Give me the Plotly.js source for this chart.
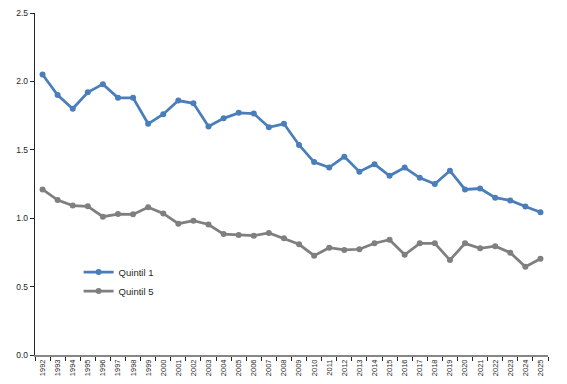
<!DOCTYPE html>
<html>
<head>
<meta charset="utf-8">
<script src="https://cdn.plot.ly/plotly-3.0.1.min.js"></script>
<style>html,body{margin:0;padding:0;background:#fff;}#chart{width:567px;height:384px;}</style>
</head>
<body>
<div id="chart"></div>
<script>
const years = ["1992","1993","1994","1995","1996","1997","1998","1999","2000","2001","2002","2003","2004","2005","2006","2007","2008","2009","2010","2011","2012","2013","2014","2015","2016","2017","2018","2019","2020","2021","2022","2023","2024","2025"];
const quintil1 = [2.05,1.90,1.80,1.92,1.98,1.88,1.88,1.69,1.76,1.86,1.84,1.67,1.73,1.77,1.765,1.665,1.69,1.535,1.41,1.37,1.45,1.34,1.395,1.31,1.37,1.295,1.25,1.347,1.21,1.217,1.15,1.13,1.085,1.043];
const quintil5 = [1.21,1.133,1.092,1.087,1.011,1.03,1.028,1.08,1.035,0.96,0.982,0.954,0.884,0.877,0.872,0.892,0.853,0.809,0.726,0.784,0.768,0.773,0.817,0.843,0.733,0.816,0.816,0.694,0.816,0.78,0.795,0.748,0.645,0.703];
const seriesNames = ["Quintil 1","Quintil 5"];

const traces = [
  {x: years, y: quintil1, name: seriesNames[0], type: "scatter", mode: "lines+markers",
   line: {color: "#4a7ebb", width: 2.75}, marker: {color: "#4a7ebb", size: 6}},
  {x: years, y: quintil5, name: seriesNames[1], type: "scatter", mode: "lines+markers",
   line: {color: "#7f7f7f", width: 2.75}, marker: {color: "#7f7f7f", size: 6}}
];

const layout = {
  width: 567, height: 384,
  margin: {l: 35, r: 19, t: 13, b: 29},
  paper_bgcolor: "#fff", plot_bgcolor: "#fff",
  font: {family: "Liberation Sans, Arial, sans-serif", color: "#262626"},
  showlegend: true,
  legend: {x: 0.085, y: 0.285, xanchor: "left", yanchor: "top", bgcolor: "rgba(0,0,0,0)",
           font: {size: 9.5, color: "#262626"}, itemwidth: 30, tracegroupgap: 0},
  xaxis: {type: "category", range: [-0.5, 33.5], tickson: "boundaries",
          showline: true, linecolor: "#868686", linewidth: 1.5,
          ticks: "outside", ticklen: 4, tickcolor: "#262626", tickwidth: 1,
          tickangle: -90, tickfont: {size: 7.5, color: "#262626"},
          showgrid: false, zeroline: false, fixedrange: true},
  yaxis: {range: [0, 2.5], dtick: 0.5, tickformat: ".1f",
          showline: true, linecolor: "#262626", linewidth: 1.25,
          ticks: "outside", ticklen: 4, tickcolor: "#262626",
          tickfont: {size: 8.5, color: "#262626"},
          showgrid: false, zeroline: false, fixedrange: true}
};

Plotly.newPlot("chart", traces, layout, {displayModeBar: false, staticPlot: true});
</script>
</body>
</html>
